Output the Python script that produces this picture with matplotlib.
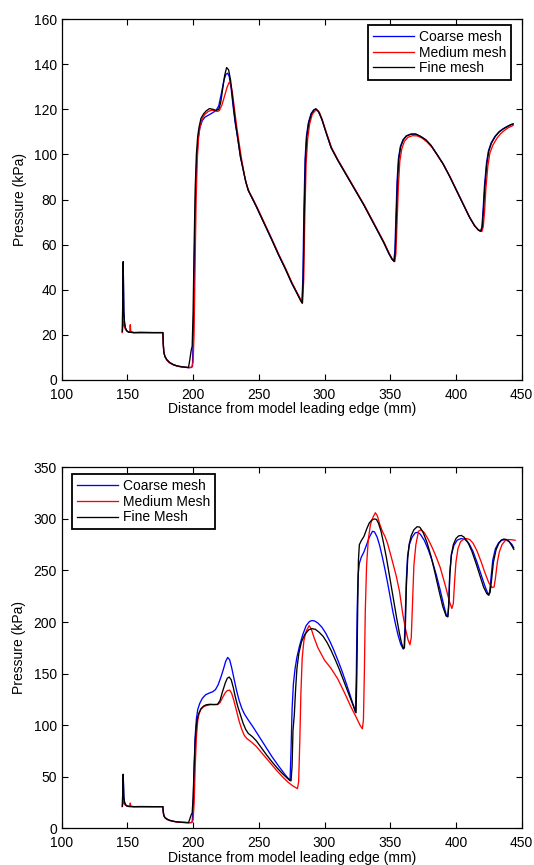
import matplotlib
matplotlib.use("Agg")
import matplotlib.pyplot as plt

plt.rcParams["font.family"] = ["Liberation Sans", "DejaVu Sans"]

# ---- top panel: pressure vs distance (x mm, y kPa) ----
coarse_top = [
    (146.2, 21.5), (146.8, 52.0), (147.3, 30), (147.8, 25.5), (148.5, 23), (149.5, 21.8),
    (151, 21.2), (155, 21), (160, 21), (170, 21), (177.0, 21), (177.3, 16), (177.7, 12.5),
    (178.5, 10.5), (180, 9), (182, 7.8), (185, 6.8), (188, 6.2), (192, 5.8), (196.5, 5.5),
    (198.5, 5.5), (199.5, 6), (200.3, 25), (201, 55), (201.8, 80), (202.7, 97), (203.7, 106),
    (205, 111.5), (207, 115), (209, 116.5), (212, 117.5), (215, 118.5), (217.5, 119.5),
    (219.5, 121.5), (221.5, 127), (223.5, 133), (225, 135.5), (226.3, 136), (227.5, 134.5),
    (229, 129), (230.5, 121), (232, 114), (234, 107), (236, 99), (238, 93.5), (240, 88),
    (242, 84), (245, 80.5), (248, 77), (252, 72), (256, 67), (260, 62), (265, 55.5),
    (270, 49.5), (275, 43), (279, 38.5), (281.5, 35.8), (282.8, 34.5), (283.5, 45),
    (284.3, 75), (285.2, 98), (286.2, 108), (287.7, 114), (289.7, 118), (291.7, 119.7),
    (293.3, 120.1), (295.3, 119), (298, 115.5), (301, 110), (305, 103), (310, 97.5),
    (315, 92.5), (320, 87.5), (325, 82.5), (330, 77.5), (335, 72), (340, 66.5), (345, 61),
    (349, 56), (351.3, 53.5), (352.7, 52.8), (353.5, 57), (354.3, 72), (355.2, 88),
    (356.2, 98), (357.7, 103.5), (359.7, 106.5), (362.2, 108.2), (365.7, 109), (369.2, 109),
    (373, 108), (377, 106.5), (381, 104), (385, 100.5), (390, 96), (395, 90.5), (400, 84.5),
    (405, 78.5), (410, 72.5), (414, 68.5), (417, 66.5), (418.8, 66), (419.8, 68), (420.7, 76),
    (421.7, 86), (423.2, 96), (424.7, 101.5), (426.7, 105), (429.7, 108), (432.7, 110),
    (435.7, 111.3), (438.7, 112.3), (441.7, 113.2), (443.5, 113.5),
]

medium_top = [
    (146.0, 21), (146.8, 26), (147.5, 24), (148.5, 22.5), (150, 21.5), (151.8, 21.3),
    (152.2, 24.5), (152.6, 21.5), (155, 21), (160, 21.2), (170, 21), (177.0, 21),
    (177.3, 16), (177.7, 12.5), (178.5, 10.5), (180, 8.8), (182, 7.6), (185, 6.7), (188, 6.1),
    (192, 5.7), (197, 5.5), (199, 5.7), (200, 8), (200.7, 20), (201.5, 50), (202.3, 80),
    (203.2, 98), (204.2, 108), (205.5, 113), (207, 116), (209, 117.8), (211.5, 119),
    (214, 119.6), (216.5, 119.4), (218.5, 119), (220, 119.5), (222, 122), (224, 126),
    (226, 130), (227.5, 132), (228.8, 131), (230, 127), (231.5, 120), (233, 113), (235, 105),
    (237, 97.5), (239, 91), (241, 86), (243, 83), (245.5, 80.3), (248.5, 76.8), (252.5, 71.8),
    (256.5, 66.8), (260.5, 61.8), (265.5, 55.3), (270.5, 49.3), (275.5, 42.8), (279.5, 38.3),
    (282, 35.5), (283.3, 34.2), (284.2, 45), (285, 72), (286, 96), (287.2, 107), (288.7, 113.5),
    (290.5, 117.5), (292.5, 119.2), (294.3, 119.6), (296.2, 118.5), (298.5, 115), (301.5, 109.5),
    (305.5, 102.8), (310.5, 97.3), (315.5, 92.3), (320.5, 87.3), (325.5, 82.3), (330.5, 77.3),
    (335.5, 71.8), (340.5, 66.3), (345.5, 60.8), (349.5, 55.8), (352, 53.2), (353.5, 52.5),
    (354.3, 56), (355.2, 70), (356.2, 86), (357.3, 97), (358.8, 102.5), (360.8, 105.8),
    (363.5, 107.6), (367, 108.3), (370.5, 108.2), (374, 107.3), (378, 105.5), (382, 103),
    (386, 99.5), (391, 95), (396, 89.5), (401, 83.5), (406, 77.5), (411, 71.5), (415, 67.8),
    (418, 66), (419.7, 65.8), (420.8, 68), (421.8, 75), (422.8, 85), (424.3, 95), (425.8, 100.5),
    (428, 104), (431, 107), (434, 109.2), (437, 110.7), (440, 111.9), (443.5, 112.8),
]

fine_top = [
    (146.2, 21.5), (146.8, 52.5), (147.3, 30), (147.8, 25.5), (148.5, 23), (149.5, 21.8),
    (151, 21.2), (155, 21), (160, 21), (170, 21), (177.0, 21), (177.3, 16), (177.7, 12.5),
    (178.5, 10.5), (180, 9), (182, 7.8), (185, 6.8), (188, 6.2), (192, 5.8), (196.5, 5.5),
    (197.5, 9), (198.5, 13), (199.3, 15), (200, 30), (200.8, 60), (201.6, 85), (202.5, 100),
    (203.5, 108), (204.5, 112), (206, 116), (208, 118), (210, 119.3), (212.5, 120.3),
    (215, 120), (217.5, 119.5), (219.5, 120), (221, 123), (222.5, 129), (224, 135),
    (225.5, 138.5), (227, 137.5), (228.5, 133), (230, 125), (232, 115), (234, 107), (236, 99),
    (238, 93.5), (240, 88), (242, 84), (245, 80.5), (248, 77), (252, 72), (256, 67), (260, 62),
    (265, 55.5), (270, 49.5), (275, 43), (279, 38.5), (281.5, 35.5), (283, 34), (283.8, 45),
    (284.6, 75), (285.5, 98), (286.5, 108), (288, 114), (290, 118), (292, 119.7), (293.5, 120.2),
    (295.5, 119), (298, 115.5), (301, 110), (305, 103), (310, 97.5), (315, 92.5), (320, 87.5),
    (325, 82.5), (330, 77.5), (335, 72), (340, 66.5), (345, 61), (349, 56), (351.5, 53.5),
    (353, 52.5), (353.8, 57), (354.6, 72), (355.5, 88), (356.5, 98), (358, 103.5), (360, 106.5),
    (362.5, 108.2), (366, 109), (369.5, 109), (373, 108), (377, 106.5), (381, 104), (385, 100.5),
    (390, 96), (395, 90.5), (400, 84.5), (405, 78.5), (410, 72.5), (414, 68.5), (417, 66.5),
    (419, 66), (420, 68), (421, 76), (422, 86), (423.5, 96), (425, 101.5), (427, 105),
    (430, 108), (433, 110), (436, 111.3), (439, 112.3), (442, 113.2), (443.5, 113.5),
]

# ---- bottom panel ----
coarse_bot = [
    (146.2, 21.5), (146.8, 52.0), (147.3, 30), (147.8, 25.5), (148.5, 23), (149.5, 21.8),
    (151, 21.2), (155, 21), (160, 21), (170, 21), (177.0, 21), (177.3, 16), (177.7, 12.5),
    (178.5, 10.5), (180, 9), (182, 7.8), (185, 6.8), (188, 6.2), (192, 5.8), (196.5, 5.5),
    (198.5, 5.5), (199.3, 6), (200, 20), (200.7, 55), (201.5, 88), (202.5, 106), (203.5, 115),
    (205, 121), (207, 126), (209.5, 129.5), (212, 131), (215, 132.5), (217, 134.5), (219, 139),
    (221, 146), (223, 154), (224.8, 162), (226.3, 165.7), (227.8, 163.5), (229.3, 156),
    (231, 146), (233, 134), (235, 124), (237, 116.5), (239, 111), (242, 105), (246, 97.5),
    (250, 89.5), (255, 79.5), (260, 69.5), (265, 60.5), (270, 52), (273, 47.5), (273.8, 47),
    (274.5, 75), (275.3, 115), (276.3, 140), (277.6, 155), (279, 166), (281, 177),
    (283.5, 188), (286, 196.5), (288.5, 200.5), (290.5, 201.5), (292.5, 201), (295, 199),
    (298, 195), (301, 189), (304, 181.5), (307, 173), (310, 163.5), (313, 153.5), (316, 142.5),
    (319, 131), (322, 119), (323.5, 112.5), (324.2, 150), (324.8, 210), (325.5, 245),
    (326.5, 257), (328, 263), (330, 268), (332, 275), (334, 282), (336.5, 288), (338, 287.5),
    (340, 282.5), (342, 274), (344, 263), (346, 251), (348, 238), (350, 224), (352, 210),
    (354, 198), (356, 187), (358, 178.5), (359.8, 174), (360.6, 176), (361.3, 200),
    (362.2, 240), (363.2, 264), (364.5, 275), (366.5, 282), (369, 286.5), (371, 287),
    (373, 285), (376, 279), (379, 270), (382, 259), (385, 246), (388, 231), (391, 215),
    (392.8, 206), (393.8, 205.5), (394.5, 218), (395.3, 248), (396.5, 265), (398.5, 274.5),
    (401, 279.5), (404, 281), (407, 280), (410, 276), (413, 268.5), (416, 258), (419, 246.5),
    (422, 235), (424.6, 226.5), (425.6, 229), (426.6, 242), (428, 260), (430, 271),
    (432.5, 277), (435, 279.5), (437.5, 279.8), (440, 278.5), (442.5, 275.5), (444, 272),
]

medium_bot = [
    (146.0, 21), (146.8, 26), (147.5, 24), (148.5, 22.5), (150, 21.5), (151.8, 21.3),
    (152.2, 24.5), (152.6, 21.5), (155, 21), (160, 21.2), (170, 21), (177.0, 21),
    (177.3, 16), (177.7, 12.5), (178.5, 10.5), (180, 8.8), (182, 7.6), (185, 6.7), (188, 6.1),
    (192, 5.7), (197, 5.5), (199, 5.7), (200, 8), (200.8, 25), (201.6, 60), (202.5, 88),
    (203.5, 104), (204.5, 111), (206, 115.5), (208, 118), (210, 119), (213, 119.8),
    (216, 120), (219, 120.3), (220.5, 122), (222.5, 127), (224.5, 131.5), (226, 133.5),
    (227.8, 134), (229.3, 131), (231, 124), (233, 114), (235, 104), (237, 96), (239, 90),
    (241, 87), (244, 84), (248, 79.5), (252, 73.5), (256, 67.5), (260, 61.5), (264, 55.5),
    (268, 50), (272, 45), (276, 41), (279.4, 38.5), (280.3, 45), (281.2, 85), (282, 130),
    (283, 165), (284.3, 182), (286, 191), (288.3, 196.5), (290, 193), (292, 185), (295, 175),
    (300, 163), (305, 155), (310, 145), (315, 132), (320, 118), (324, 108), (327, 100),
    (328.8, 96.5), (329.6, 105), (330.3, 150), (331, 210), (332, 255), (333.3, 280),
    (335, 295), (337, 302), (338.7, 306), (340.2, 303), (342, 295), (344, 288), (346, 283),
    (348, 276), (351, 262), (354.5, 245), (357, 230), (359.5, 208), (361.5, 194),
    (363.5, 183), (365, 178), (366, 185), (367, 220), (368, 255), (369.5, 275), (371.5, 288),
    (373.5, 289.5), (376, 286.5), (379, 280), (382, 272), (385, 263), (388, 253), (392, 235),
    (395, 220), (396.9, 213.2), (398, 218), (399, 240), (400, 258), (401.5, 271),
    (403.5, 278), (406, 280.5), (408, 281), (410.5, 280), (413, 276.5), (416, 269),
    (419, 259), (422, 248), (425, 238), (427.5, 233.5), (429, 234), (430, 242),
    (431.5, 258), (433, 268), (435, 275), (437.5, 279), (440, 280), (442.5, 279.8),
    (445, 279.3),
]

fine_bot = [
    (146.2, 21.5), (146.8, 52.5), (147.3, 30), (147.8, 25.5), (148.5, 23), (149.5, 21.8),
    (151, 21.2), (155, 21), (160, 21), (170, 21), (177.0, 21), (177.3, 16), (177.7, 12.5),
    (178.5, 10.5), (180, 9), (182, 7.8), (185, 6.8), (188, 6.2), (192, 5.8), (196.5, 5.5),
    (197.5, 9), (198.5, 13), (199.3, 15), (200, 30), (200.8, 60), (201.6, 85), (202.5, 100),
    (203.5, 108), (204.5, 112), (206, 116), (208, 118.5), (210, 119.8), (213, 120.3),
    (216, 120), (218.5, 120), (220.5, 124), (222.5, 133), (224.5, 141), (226, 145.5),
    (227.5, 146.7), (229, 144), (230.5, 137), (232, 128), (234, 118), (236, 110), (238, 102),
    (240, 96), (242, 92), (245, 89), (248, 85), (252, 78), (256, 71), (260, 64.5), (264, 58.5),
    (268, 53), (271, 49.5), (273.5, 46.5), (274.5, 46), (275.3, 60), (276, 95), (277, 110),
    (278, 135), (279, 155), (280.5, 170), (282.5, 181), (285, 188), (288, 192.5),
    (290.5, 193.6), (293, 193), (296, 190), (299, 186), (302, 180), (305, 172.5), (308, 164),
    (311, 155), (314, 145), (317, 135), (320, 125), (322.5, 117), (324, 112), (324.6, 150),
    (325.2, 210), (325.8, 260), (326.5, 275), (328, 279), (330, 283), (332, 290), (334, 296),
    (336, 299), (338, 300), (339.5, 299.5), (341, 296), (343, 288), (345, 276), (347, 263),
    (349, 248), (351, 233), (353, 218), (355, 203), (357, 189), (358.5, 180), (360, 174),
    (360.8, 175), (361.5, 195), (362.3, 235), (363.3, 262), (364.5, 276), (366, 284),
    (368, 289.5), (370.5, 292.5), (372.5, 292), (375, 287), (378, 277), (381, 264), (384, 248),
    (387, 231), (390, 215), (392.5, 206), (393.8, 205), (394.5, 215), (395.3, 245),
    (396.5, 265), (398, 275), (400, 281), (402, 283.5), (404, 284), (406, 282.5), (409, 277.5),
    (412, 269), (415, 258), (418, 246), (421, 234), (423.5, 227.5), (425, 226), (426, 229),
    (427, 240), (428.5, 258), (430.5, 270), (432.5, 276), (434.5, 279.5), (436.5, 280.5),
    (438.5, 280), (440.5, 278), (442.5, 274), (444, 270.5),
]

labels_top = ["Coarse mesh", "Medium mesh", "Fine mesh"]
labels_bot = ["Coarse mesh", "Medium Mesh", "Fine Mesh"]
colors = ["#0000ff", "#ff0000", "#000000"]
xticks = [100, 150, 200, 250, 300, 350, 400, 450]
yticks_top = [0, 20, 40, 60, 80, 100, 120, 140, 160]
yticks_bot = [0, 50, 100, 150, 200, 250, 300, 350]

FS = 10


def panel(ax, series, labels, yticks, legend_loc, anchor):
    for pts, lab, c in zip(series, labels, colors):
        xs, ys = zip(*pts)
        ax.plot(xs, ys, color=c, lw=0.95, label=lab)
    ax.set_xlim(100, 450)
    ax.set_ylim(yticks[0], yticks[-1])
    ax.set_xticks(xticks)
    ax.set_yticks(yticks)
    ax.tick_params(direction="in", top=True, right=True, length=4, width=0.8,
                   labelsize=FS)
    ax.tick_params(axis="x", pad=5.5)
    ax.tick_params(axis="y", pad=3.5)
    for s in ax.spines.values():
        s.set_linewidth(0.9)
    ax.set_xlabel("Distance from model leading edge (mm)", fontsize=FS, labelpad=0.5)
    ax.set_ylabel("Pressure (kPa)", fontsize=FS, labelpad=5)
    leg = ax.legend(loc=legend_loc, bbox_to_anchor=anchor, fontsize=FS, fancybox=False,
                    framealpha=1, edgecolor="black", handlelength=2.95, handletextpad=0.36,
                    borderpad=0.35, labelspacing=0.12, borderaxespad=0)
    leg.get_frame().set_linewidth(1.3)


fig = plt.figure(figsize=(5.34, 8.65), dpi=100)
ax1 = fig.add_axes([0.1155, 0.5607, 0.8614, 0.4173])
ax2 = fig.add_axes([0.1155, 0.0424, 0.8614, 0.4173])

panel(ax1, [coarse_top, medium_top, fine_top], labels_top, yticks_top,
      "upper right", (0.977, 0.983))
panel(ax2, [coarse_bot, medium_bot, fine_bot], labels_bot, yticks_bot,
      "upper left", (0.022, 0.981))

fig.savefig("out.png", dpi=100)
